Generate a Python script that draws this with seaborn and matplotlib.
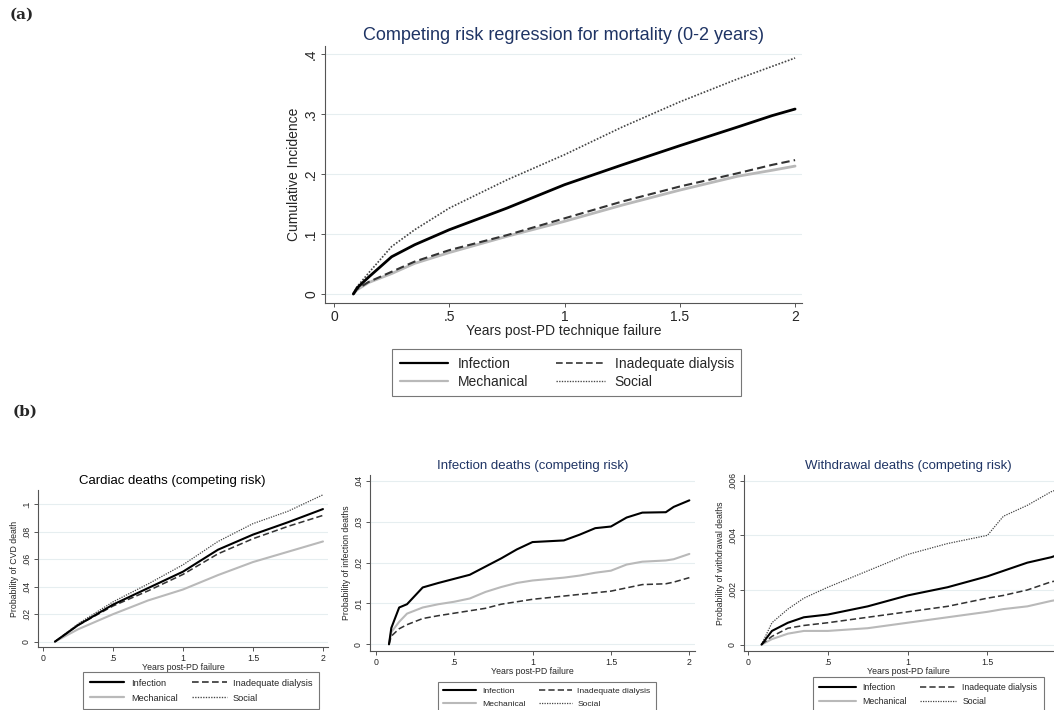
import numpy as np
import pandas as pd
import matplotlib
matplotlib.use("Agg")
import matplotlib.pyplot as plt
from matplotlib.lines import Line2D
import seaborn as sns

# %% dados
# (a) competing risk regression for mortality
a_x = [0.084, 0.1, 0.15, 0.25, 0.35, 0.5, 0.75, 1.0, 1.25, 1.5, 1.75, 1.9, 2.0]
a_infection = [0, 0.010, 0.028, 0.062, 0.082, 0.107, 0.143, 0.182, 0.215, 0.247, 0.278, 0.297, 0.308]
a_inadequate = [0, 0.008, 0.020, 0.037, 0.054, 0.073, 0.098, 0.126, 0.154, 0.179, 0.201, 0.215, 0.223]
a_mechanical = [0, 0.007, 0.019, 0.034, 0.051, 0.069, 0.096, 0.121, 0.148, 0.173, 0.196, 0.206, 0.213]
a_social = [0, 0.012, 0.035, 0.079, 0.107, 0.143, 0.190, 0.232, 0.278, 0.320, 0.358, 0.379, 0.393]

# (b) cardiac deaths
c_x = [0.085, 0.25, 0.5, 0.75, 1.0, 1.25, 1.5, 1.75, 2.0]
c_infection = [0, 0.012, 0.027, 0.039, 0.051, 0.067, 0.078, 0.087, 0.0966]
c_inadequate = [0, 0.012, 0.026, 0.037, 0.049, 0.064, 0.075, 0.084, 0.092]
c_mechanical = [0, 0.009, 0.020, 0.030, 0.038, 0.0485, 0.058, 0.0655, 0.073]
c_social = [0, 0.013, 0.029, 0.042, 0.056, 0.073, 0.086, 0.095, 0.107]

# (b) infection deaths (social nao aparece no painel)
i_x = [0.085, 0.1, 0.15, 0.2, 0.3, 0.4, 0.5, 0.6, 0.7, 0.8, 0.9, 1.0, 1.2, 1.3, 1.4, 1.5, 1.6, 1.7, 1.85, 1.9, 2.0]
i_infection = [0, 0.004, 0.009, 0.0098, 0.0139, 0.0150, 0.0160, 0.0170, 0.0190, 0.0210, 0.0232, 0.0250,
               0.0254, 0.0268, 0.0284, 0.0288, 0.0310, 0.0322, 0.0323, 0.0336, 0.0352]
i_mechanical = [0, 0.003, 0.0055, 0.0075, 0.0090, 0.0098, 0.0104, 0.0112, 0.0128, 0.0140, 0.0150, 0.0156,
                0.0163, 0.0168, 0.0175, 0.0180, 0.0195, 0.0202, 0.0205, 0.0208, 0.0221]
i_inadequate = [0, 0.002, 0.0038, 0.0048, 0.0063, 0.0070, 0.0076, 0.0082, 0.0088, 0.0098, 0.0104, 0.0110,
                0.0118, 0.0122, 0.0126, 0.0130, 0.0138, 0.0146, 0.0148, 0.0152, 0.0163]

# (b) withdrawal deaths
w_x = [0.085, 0.15, 0.25, 0.35, 0.5, 0.75, 1.0, 1.25, 1.5, 1.6, 1.75, 1.9, 2.0]
w_infection = [0, 0.0005, 0.0008, 0.0010, 0.0011, 0.0014, 0.0018, 0.0021, 0.0025, 0.0027, 0.0030, 0.0032, 0.0034]
w_inadequate = [0, 0.0003, 0.0006, 0.0007, 0.0008, 0.0010, 0.0012, 0.0014, 0.0017, 0.0018, 0.0020, 0.0023, 0.0024]
w_mechanical = [0, 0.0002, 0.0004, 0.0005, 0.0005, 0.0006, 0.0008, 0.0010, 0.0012, 0.0013, 0.0014, 0.0016, 0.0017]
w_social = [0, 0.0008, 0.0013, 0.0017, 0.0021, 0.0027, 0.0033, 0.0037, 0.0040, 0.0047, 0.0051, 0.0056, 0.0058]

x_ticks = [0, 0.5, 1, 1.5, 2]
x_ticklabels = ['0', '.5', '1', '1.5', '2']
a_yticks = [0, 0.1, 0.2, 0.3, 0.4]
a_yticklabels = ['0', '.1', '.2', '.3', '.4']
c_yticks = [0, 0.02, 0.04, 0.06, 0.08, 0.1]
c_yticklabels = ['0', '.02', '.04', '.06', '.08', '.1']
i_yticks = [0, 0.01, 0.02, 0.03, 0.04]
i_yticklabels = ['0', '.01', '.02', '.03', '.04']
w_yticks = [0, 0.002, 0.004, 0.006]
w_yticklabels = ['0', '.002', '.004', '.006']

# %% estilo
sns.set_style('white')
plt.rcParams['font.family'] = ['Liberation Sans', 'DejaVu Sans']

NAVY = '#1f3464'
GRID = '#e6eef0'
estilos = {
    'Infection': dict(color='black', linestyle='-', lw=1.0),
    'Inadequate dialysis': dict(color='#333333', linestyle=(0, (4, 2)), lw=0.75),
    'Mechanical': dict(color='#b9b9b9', linestyle='-', lw=1.0),
    'Social': dict(color='#444444', linestyle=(0, (1, 1)), lw=0.6),
}

W, H = 1054, 710
fig = plt.figure(figsize=(W / 100, H / 100), dpi=100)


def caixa(l, r, b, t):
    return [l / W, 1 - b / H, (r - l) / W, (b - t) / H]


def painel(ax, x, series, xlim, ylim, yticks, yticklabels, title, tcolor, tsize,
           ylabel, xlabel, fs, lwmult, tx=0.5, nxt=5):
    for nome, y in series:
        st = estilos[nome]
        sns.lineplot(x=x, y=y, ax=ax, color=st['color'], linestyle=st['linestyle'],
                     lw=st['lw'] * lwmult, sort=False, errorbar=None)
    ax.set_xlim(*xlim)
    ax.set_ylim(*ylim)
    # o painel da direita esta cortado na borda: o tick "2" fica fora da figura
    ax.set_xticks(x_ticks[:nxt])
    ax.set_xticklabels(x_ticklabels[:nxt], fontsize=fs)
    ax.set_yticks(yticks)
    ax.set_yticklabels(yticklabels, fontsize=fs, rotation=90, va='center')
    for yv in yticks:
        ax.axhline(yv, color=GRID, lw=0.8, zorder=0)
    for s in ['top', 'right']:
        ax.spines[s].set_visible(False)
    for s in ['left', 'bottom']:
        ax.spines[s].set_color('#555555')
        ax.spines[s].set_linewidth(0.8)
    ax.tick_params(axis='both', direction='out', length=3, width=0.7, color='#555555',
                   pad=2, left=True, bottom=True)
    ax.set_ylabel(ylabel, fontsize=fs, labelpad=2)
    ax.set_xlabel(xlabel, fontsize=fs, labelpad=0)
    ax.set_title(title, color=tcolor, fontsize=tsize, pad=4, x=tx)


def legenda(l, t, fs, hl, cs, ls, bp, lwmult):
    ordem = ['Infection', 'Mechanical', 'Inadequate dialysis', 'Social']
    hs = [Line2D([], [], color=estilos[n]['color'], linestyle=estilos[n]['linestyle'],
                 lw=estilos[n]['lw'] * lwmult) for n in ordem]
    leg = fig.legend(hs, ordem, loc='upper left', ncol=2, borderaxespad=0,
                     bbox_to_anchor=(l / W, 1 - t / H),
                     fontsize=fs, frameon=True, fancybox=False, handlelength=hl,
                     handletextpad=0.7, borderpad=bp, labelspacing=ls, columnspacing=cs)
    leg.get_frame().set_edgecolor('#555555')
    leg.get_frame().set_linewidth(0.8)


# %% painel (a)
ax_a = fig.add_axes(caixa(325, 802, 303, 46))
painel(ax_a, a_x, [('Mechanical', a_mechanical), ('Inadequate dialysis', a_inadequate),
                   ('Social', a_social), ('Infection', a_infection)],
       (-0.039, 2.03), (-0.015, 0.413), a_yticks, a_yticklabels,
       'Competing risk regression for mortality (0-2 years)', NAVY, 13,
       'Cumulative Incidence', 'Years post-PD technique failure', 10, 2.0)
legenda(392, 349, 10, 3.5, 2.0, 0.3, 0.55, 1.6)

# %% painel (b): tres graficos
ax_c = fig.add_axes(caixa(38, 328, 647, 490))
painel(ax_c, c_x, [('Mechanical', c_mechanical), ('Inadequate dialysis', c_inadequate),
                   ('Social', c_social), ('Infection', c_infection)],
       (-0.036, 2.036), (-0.0039, 0.1105), c_yticks, c_yticklabels,
       'Cardiac deaths (competing risk)', 'black', 9.5,
       'Probability of CVD death', 'Years post-PD failure', 6.3, 1.5, tx=0.462)
legenda(83, 672, 6.7, 3.75, 1.5, 0.65, 0.7, 1.6)

ax_i = fig.add_axes(caixa(370, 695, 651, 475))
painel(ax_i, i_x, [('Mechanical', i_mechanical), ('Inadequate dialysis', i_inadequate),
                   ('Infection', i_infection)],
       (-0.036, 2.036), (-0.00164, 0.0414), i_yticks, i_yticklabels,
       'Infection deaths (competing risk)', NAVY, 9.5,
       'Probability of infection deaths', 'Years post-PD failure', 6.3, 1.5)
legenda(438, 682, 6.1, 3.9, 1.5, 0.55, 0.63, 1.5)

ax_w = fig.add_axes(caixa(744, 1073, 651, 475))
painel(ax_w, w_x, [('Mechanical', w_mechanical), ('Inadequate dialysis', w_inadequate),
                   ('Social', w_social), ('Infection', w_infection)],
       (-0.025, 2.036), (-0.000235, 0.00621), w_yticks, w_yticklabels,
       'Withdrawal deaths (competing risk)', NAVY, 9.5,
       'Probability of withdrawal deaths', 'Years post-PD failure', 6.3, 1.5, nxt=4)
legenda(813, 677, 6.3, 4.2, 1.5, 0.6, 0.7, 1.5)

# rotulos dos paineis
fig.text(10 / W, 1 - 15 / H, '(a)', fontsize=11, fontweight='bold', family='DejaVu Serif', va='center')
fig.text(13 / W, 1 - 412 / H, '(b)', fontsize=11, fontweight='bold', family='DejaVu Serif', va='center')

fig.savefig('out.png', dpi=100)
